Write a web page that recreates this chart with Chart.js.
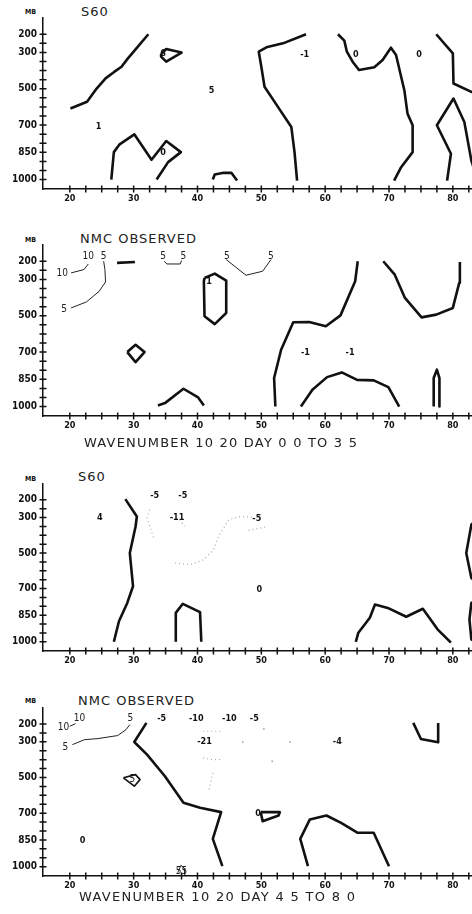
<!DOCTYPE html>
<html>
<head>
<meta charset="utf-8">
<script src="https://cdn.jsdelivr.net/npm/chart.js@4"></script>
<style>
  body { margin: 0; width: 472px; height: 914px; background: #fff; position: relative; overflow: hidden; font-family: "DejaVu Sans", sans-serif; color: #222; }
  canvas { position: absolute; left: 0; }
  .title { position: absolute; font-size: 13px; line-height: 13px; letter-spacing: 1px; white-space: nowrap; }
  .mb { position: absolute; left: 25px; font: bold 7px "DejaVu Sans Condensed", "DejaVu Sans", sans-serif; line-height: 7px; color: #111; }
</style>
</head>
<body>
<div class="mb" style="top:9px">MB</div>
<div class="title" style="left:81px;top:5px">S60</div>
<canvas id="p1" width="472" height="196" style="top:17px"></canvas>

<div class="mb" style="top:237px">MB</div>
<div class="title" style="left:80px;top:232px">NMC OBSERVED</div>
<canvas id="p2" width="472" height="196" style="top:244px"></canvas>
<div class="title" style="left:84px;top:436px;letter-spacing:1.2px">WAVENUMBER 10 20 DAY 0 0 TO 3 5</div>

<div class="mb" style="top:476px">MB</div>
<div class="title" style="left:78px;top:470px">S60</div>
<canvas id="p3" width="472" height="192" style="top:483px"></canvas>

<div class="mb" style="top:698px">MB</div>
<div class="title" style="left:78px;top:694px">NMC OBSERVED</div>
<canvas id="p4" width="472" height="193" style="top:707px"></canvas>
<div class="title" style="left:79px;top:890px;letter-spacing:1.3px">WAVENUMBER 10 20 DAY 4 5 TO 8 0</div>

<script>
// axis ticks (pressure in mb, latitude in degrees)
const pressureTicks = [200, 250, 300, 350, 400, 450, 500, 550, 600, 650, 700, 750, 800, 850, 900, 950, 1000];
const pressureLabels = {200: '200', 300: '300', 500: '500', 700: '700', 850: '850', 1000: '1000'};
const latTicks = [20, 22.5, 25, 27.5, 30, 32.5, 35, 37.5, 40, 42.5, 45, 47.5, 50, 52.5, 55, 57.5, 60, 62.5, 65, 67.5, 70, 72.5, 75, 77.5, 80, 82.5];
const latLabels = {20: '20', 30: '30', 40: '40', 50: '50', 60: '60', 70: '70', 80: '80'};

// S60, day 0.0-3.5 : contour paths as [lat, mb]
const s60EarlyHeavy = [
  [[20.1, 609], [22.7, 572], [24.2, 499], [25.6, 443], [27.0, 406], [28.1, 379], [29.1, 333], [30.2, 287], [32.3, 200]],
  [[34.3, 309], [35.1, 281], [37.5, 301], [35.1, 351], [34.3, 323], [34.3, 309]],
  [[26.5, 1000], [26.9, 849], [27.8, 806], [30.1, 751], [32.8, 891], [35.1, 788], [37.4, 849], [35.4, 904], [33.6, 1000]],
  [[42.4, 1000], [42.7, 972], [44.1, 963], [45.3, 963], [46.2, 1005]],
  [[57.0, 200], [53.4, 250], [50.8, 272], [49.6, 296], [50.0, 379], [50.5, 489], [52.6, 600], [54.7, 711], [55.2, 849], [55.6, 1006]],
  [[62.0, 200], [63.0, 235], [63.4, 296], [64.3, 351], [65.3, 397], [67.7, 382], [69.0, 342], [70.3, 274], [71.1, 314], [72.4, 508], [72.9, 637], [73.7, 701], [73.7, 849], [71.9, 932], [70.8, 1006]],
  [[77.4, 200], [80.0, 305], [80.1, 471], [82.9, 517], [84.0, 530]],
  [[79.1, 1006], [79.7, 858], [77.5, 701], [80.1, 554], [81.8, 683], [82.9, 895], [83.5, 960]],
];
const s60EarlyLabels = [[34.6, 305, '6'], [42.2, 508, '5'], [24.5, 707, '1'], [56.8, 311, '-1'], [64.8, 311, '0'], [74.7, 311, '0'], [34.6, 853, '0']];

// NMC observed, day 0.0-3.5
const nmcEarlyThin = [
  [[20.2, 264], [22.2, 246], [22.9, 215]],
  [[20.2, 457], [22.6, 424], [24.6, 365], [25.6, 314], [25.5, 246], [25.3, 200]],
  [[34.8, 200], [35.2, 215], [37.3, 215], [37.5, 196]],
  [[44.5, 191], [47.6, 277], [50.2, 255], [51.5, 191]],
];
const nmcEarlyThinLabels = [[18.8, 268, '10'], [22.9, 176, '10'], [19.1, 467, '5'], [25.3, 176, '5'], [34.6, 176, '5'], [37.8, 176, '5'], [44.6, 176, '5'], [51.5, 176, '5']];
const nmcEarlyHeavy = [
  [[27.4, 209], [30.2, 204]],
  [[41.1, 292], [42.7, 268], [44.5, 307], [44.5, 485], [42.7, 546], [41.1, 503], [41.0, 310], [41.1, 292]],
  [[29.0, 700], [30.3, 660], [31.7, 700], [30.3, 755], [29.0, 700]],
  [[33.8, 994], [34.9, 981], [37.8, 902], [40.1, 950], [41.0, 994]],
  [[52.2, 1000], [52.0, 843], [53.1, 687], [55.0, 536], [57.5, 535], [60.1, 558], [62.4, 498], [64.7, 310], [65.1, 200]],
  [[56.2, 1000], [58.0, 908], [60.3, 838], [62.6, 812], [65.0, 853], [67.6, 856], [69.9, 893], [71.6, 1000]],
  [[69.1, 200], [70.9, 274], [72.5, 402], [75.1, 509], [77.4, 494], [80.0, 457], [81.0, 319], [81.1, 204]],
  [[77.0, 1000], [77.0, 843], [77.5, 797], [77.9, 843], [77.9, 1000]],
];
const nmcEarlyLabels = [[41.8, 310, '1'], [56.9, 705, '-1'], [63.9, 705, '-1']];

// S60, day 4.5-8.0
const s60LateHeavy = [
  [[28.7, 196], [30.5, 294], [30.3, 350], [29.4, 500], [29.9, 687], [29.0, 781], [27.7, 884], [26.9, 1000]],
  [[36.6, 1000], [36.6, 837], [37.7, 786], [40.4, 833], [40.6, 1000]],
  [[64.8, 1000], [65.2, 949], [67.0, 865], [67.8, 790], [69.8, 809], [72.7, 859], [75.3, 814], [77.6, 930], [79.7, 1005]],
  [[83.5, 320], [82.9, 340], [82.1, 500], [82.9, 640], [83.5, 660]],
  [[83.5, 770], [82.9, 781], [82.6, 874], [82.9, 986], [83.5, 1000]],
];
const s60LateDotted = [
  [[32.5, 256], [32.1, 303], [33.2, 421]],
  [[36.5, 556], [38.9, 565], [41.0, 537], [42.5, 481], [43.3, 406], [44.9, 312], [46.7, 294], [48.8, 298]],
  [[48.0, 372], [50.6, 354]],
  [[36.0, 300], [37.2, 310], [38.0, 350]],
];
const s60LateLabels = [[24.7, 303, '4'], [33.3, 178, '-5'], [37.7, 178, '-5'], [36.8, 303, '-11'], [49.3, 307, '-5'], [49.7, 709, '0']];

// NMC observed, day 4.5-8.0
const nmcLateThin = [
  [[20.0, 213], [20.9, 198]],
  [[20.4, 316], [22.3, 288], [24.4, 282], [27.5, 265], [28.8, 232], [29.4, 204]],
  [[36.9, 1034], [37.4, 992], [37.9, 1007], [38.0, 1044]],
];
const nmcLateMedium = [
  [[28.4, 502], [30.3, 484], [31.0, 512], [30.1, 549], [28.4, 502]],
];
const nmcLateThinLabels = [[19.0, 217, '10'], [21.5, 170, '10'], [19.3, 334, '5'], [29.5, 170, '5'], [29.8, 512, '5'], [37.5, 1025, '55']];
const nmcLateHeavy = [
  [[32.0, 194], [30.1, 301], [32.1, 372], [34.9, 493], [37.8, 642], [40.4, 670], [43.7, 694], [42.4, 844], [43.9, 997]],
  [[49.9, 693], [50.2, 745], [52.7, 713], [52.9, 694], [49.9, 693]],
  [[57.3, 997], [56.1, 844], [57.6, 735], [60.2, 713], [62.5, 754], [65.1, 810], [67.6, 810], [70.0, 997]],
  [[73.8, 194], [75.0, 284], [77.7, 303], [77.7, 194]],
];
const nmcLateDotted = [
  [[40.9, 241], [42.4, 241], [43.7, 241]],
  [[40.9, 390], [42.4, 400], [43.7, 400]],
  [[42.4, 474], [41.8, 568]],
];
const nmcLateDots = [[47.1, 301], [54.5, 301], [51.7, 409], [50.4, 228]];
const nmcLateLabels = [[34.4, 170, '-5'], [39.8, 170, '-10'], [45.0, 170, '-10'], [48.9, 170, '-5'], [41.1, 301, '-21'], [61.9, 301, '-4'], [49.5, 704, '0'], [22.0, 853, '0']];

const INK = '#111';
const HEAVY = {borderColor: INK, borderWidth: 2.6};
const MEDIUM = {borderColor: INK, borderWidth: 1.6};
const THIN = {borderColor: '#222', borderWidth: 1};
const DOTTED = {borderColor: '#aaa', borderWidth: 1.2, borderDash: [1, 3]};
const BOLD_FONT = 'bold 9px "DejaVu Sans Condensed", "DejaVu Sans", sans-serif';
const THIN_FONT = '10px "DejaVu Sans Condensed", "DejaVu Sans", sans-serif';
const X_TICK_FONT = {family: '"DejaVu Sans Condensed", "DejaVu Sans"', size: 9, weight: 'bold'};
const Y_TICK_FONT = {family: '"DejaVu Sans Condensed", "DejaVu Sans"', size: 10, weight: 'bold'};

function toPoints(pts) {
  return pts.map(([x, y]) => ({x, y}));
}

function lineSets(lines, style) {
  return lines.map((pts) => ({
    data: toPoints(pts),
    showLine: true,
    pointRadius: 0,
    tension: 0,
    borderJoinStyle: 'round',
    ...style,
  }));
}

// keep the plot area fixed: no extra room for first/last tick labels
function noLabelPadding(scale) {
  scale.paddingTop = 0;
  scale.paddingBottom = 0;
  scale.paddingLeft = 0;
  scale.paddingRight = 0;
}

// "+" marks across both axes plus the contour value labels
const axisMarks = {
  id: 'axisMarks',
  afterDraw(chart, args, opts) {
    const {ctx, chartArea, scales: {x, y}} = chart;
    ctx.save();
    ctx.strokeStyle = INK;
    ctx.lineWidth = 1.5;
    ctx.beginPath();
    pressureTicks.forEach((p) => {
      const py = y.getPixelForValue(p);
      ctx.moveTo(chartArea.left - 3.5, py);
      ctx.lineTo(chartArea.left + 3.5, py);
    });
    latTicks.forEach((v) => {
      const px = x.getPixelForValue(v);
      ctx.moveTo(px, chartArea.bottom - 3.5);
      ctx.lineTo(px, chartArea.bottom + 3.5);
    });
    ctx.stroke();

    ctx.textAlign = 'center';
    ctx.textBaseline = 'middle';
    ctx.fillStyle = INK;
    ctx.font = BOLD_FONT;
    (opts.bold || []).forEach(([lat, mb, text]) => ctx.fillText(text, x.getPixelForValue(lat), y.getPixelForValue(mb)));
    ctx.fillStyle = '#222';
    ctx.font = THIN_FONT;
    (opts.thin || []).forEach(([lat, mb, text]) => ctx.fillText(text, x.getPixelForValue(lat), y.getPixelForValue(mb)));
    ctx.restore();
  },
};

function contourChart(id, datasets, bold, thin) {
  return new Chart(document.getElementById(id), {
    type: 'scatter',
    data: {datasets},
    plugins: [axisMarks],
    options: {
      responsive: false,
      animation: false,
      layout: {padding: 0, autoPadding: false},
      plugins: {legend: {display: false}, tooltip: {enabled: false}, axisMarks: {bold, thin}},
      scales: {
        x: {
          type: 'linear', min: 15.8, max: 83,
          afterBuildTicks: (s) => { s.ticks = latTicks.map((value) => ({value})); },
          afterFit: (s) => { s.height = 24; noLabelPadding(s); },
          grid: {display: false, drawTicks: false},
          border: {display: true, color: INK, width: 1.5},
          ticks: {autoSkip: false, maxRotation: 0, padding: 4, color: INK, font: X_TICK_FONT,
            callback: (v) => latLabels[v] || ''},
        },
        y: {
          type: 'linear', reverse: true, min: 105, max: 1052,
          afterBuildTicks: (s) => { s.ticks = pressureTicks.map((value) => ({value})); },
          afterFit: (s) => { s.width = 43; noLabelPadding(s); },
          grid: {display: false, drawTicks: false},
          border: {display: true, color: INK, width: 1.5},
          ticks: {autoSkip: false, padding: 6, color: INK, font: Y_TICK_FONT,
            callback: (v) => pressureLabels[v] || ''},
        },
      },
    },
  });
}

contourChart('p1', lineSets(s60EarlyHeavy, HEAVY), s60EarlyLabels, []);
contourChart('p2', [...lineSets(nmcEarlyThin, THIN), ...lineSets(nmcEarlyHeavy, HEAVY)], nmcEarlyLabels, nmcEarlyThinLabels);
contourChart('p3', [...lineSets(s60LateDotted, DOTTED), ...lineSets(s60LateHeavy, HEAVY)], s60LateLabels, []);
contourChart('p4', [
  ...lineSets(nmcLateDotted, DOTTED),
  {data: toPoints(nmcLateDots), pointRadius: 0.9, pointBackgroundColor: '#aaa', pointBorderWidth: 0},
  ...lineSets(nmcLateThin, THIN),
  ...lineSets(nmcLateMedium, MEDIUM),
  ...lineSets(nmcLateHeavy, HEAVY),
], nmcLateLabels, nmcLateThinLabels);
</script>
</body>
</html>
